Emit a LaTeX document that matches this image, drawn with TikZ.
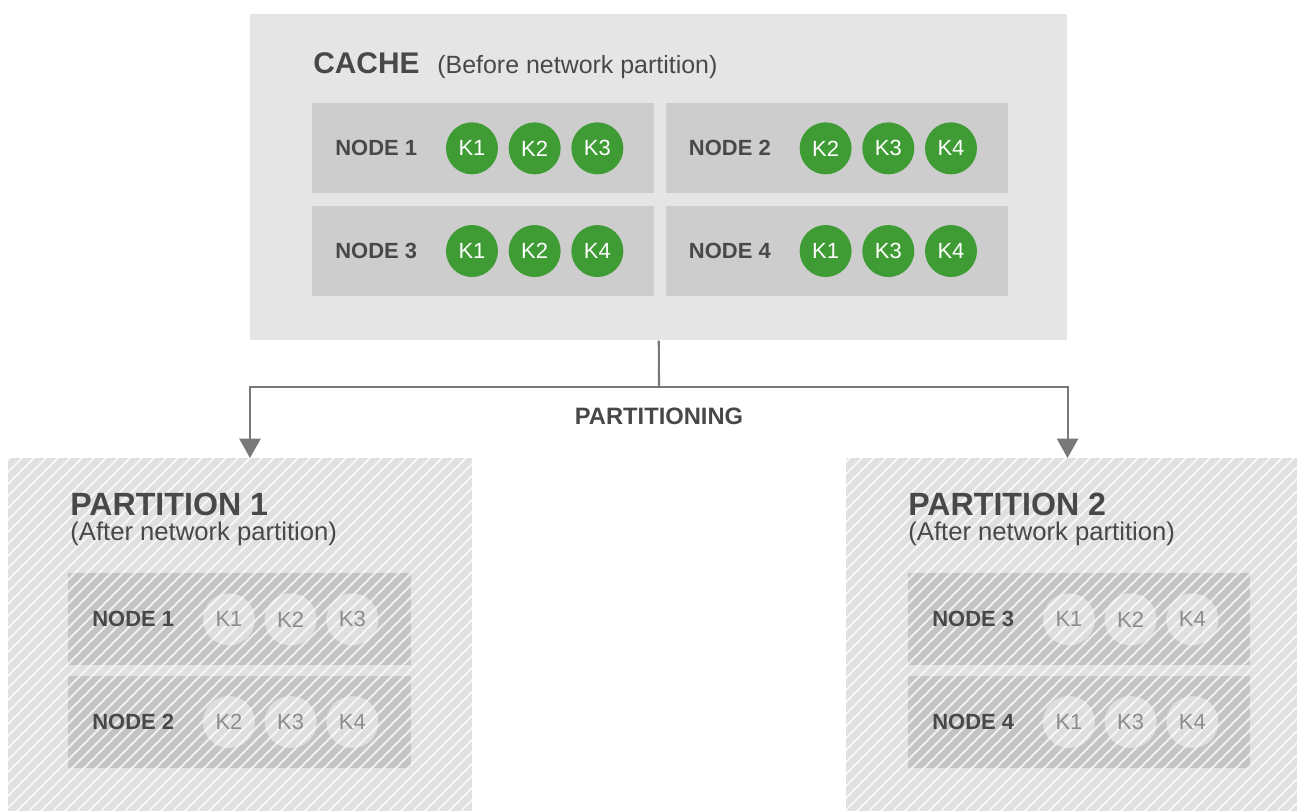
\documentclass[tikz,border=0pt]{standalone}
\usepackage{fontspec}
\setmainfont{Liberation Sans}
\usetikzlibrary{
    arrows.meta,
    positioning,
    calc
}
\definecolor{Cbox}{RGB}{229, 229, 229}
\definecolor{Cnode}{RGB}{205, 205, 205}
\definecolor{Cgreen}{RGB}{63, 156, 53}
\definecolor{Ctext}{RGB}{72, 72, 72}
\definecolor{Cline}{RGB}{120, 120, 120}
\definecolor{Cpart}{RGB}{224, 224, 224}
\definecolor{Cpnode}{RGB}{196, 196, 196}
\definecolor{Cpkey}{RGB}{222, 222, 222}
\definecolor{Cktext}{RGB}{140, 140, 140}
\tikzset{
    cbox/.style={
        rectangle, fill=Cbox, inner sep=0pt, anchor=north west
    },
    nbox/.style={
        rectangle, fill=Cnode, minimum width=6.84cm, minimum height=1.8cm,
        inner sep=0pt, anchor=north west
    },
    pbox/.style={
        rectangle, fill=Cpart, inner sep=0pt, anchor=north west
    },
    pnbox/.style={
        nbox, fill=Cpnode, minimum width=6.86cm, minimum height=1.84cm
    },
    nlabel/.style={
        font=\bfseries\fontsize{12.5}{15}\selectfont, text=Ctext,
        anchor=west, inner sep=0pt
    },
    kcirc/.style={
        circle, fill=Cgreen, text=white, minimum size=1.04cm, inner sep=0pt,
        font=\fontsize{12.5}{15}\selectfont
    },
    pkcirc/.style={kcirc, fill=Cpkey, text=Cktext},
    stripe/.style={white, opacity=0.75, line width=1.1pt},
    carr/.style={-{Triangle[length=11pt, width=12pt]}, line width=1.2pt, Cline},
}
\begin{document}
\begin{tikzpicture}[x=0.02cm, y=-0.02cm]
    \useasboundingbox (0,0) rectangle (1297,811);

    % ── cache (before partition) ─────────────────────────
    \node [cbox, minimum width=16.34cm, minimum height=6.52cm] (cache) at (250,14) {};
    \node [font=\bfseries\fontsize{17}{20}\selectfont, text=Ctext, anchor=base west, inner sep=0pt]
        (ctitle) at (313,73) {CACHE};
    \node [font=\fontsize{14.2}{17}\selectfont, text=Ctext, anchor=base west, inner sep=0pt]
        (csub) at (437,73) {(Before network partition)};

    \node [nbox] (c1) at (312,103) {};
    \node [nbox, right=0.22cm of c1] (c2) {};
    \node [nbox, below=0.24cm of c1] (c3) {};
    \node [nbox, below=0.24cm of c2] (c4) {};

    \foreach \n/\ka/\kb/\kc in {1/K1/K2/K3, 2/K2/K3/K4, 3/K1/K2/K4, 4/K1/K3/K4} {
        \node [nlabel] (c\n lab) at ([xshift=0.46cm]c\n.west) {NODE \n};
        \node [kcirc] (c\n k1) at ([xshift=3.2cm]c\n.west) {\ka};
        \node [kcirc, right=0.2cm of c\n k1] (c\n k2) {\kb};
        \node [kcirc, right=0.2cm of c\n k2] (c\n k3) {\kc};
    }

    % ── partitions (after partition) ─────────────────────
    \node [pbox, minimum width=9.28cm, minimum height=7.06cm] (part1) at (8,458) {};
    \node [pbox, minimum width=9.02cm, minimum height=7.06cm] (part2) at (846,458) {};

    \node [pnbox] (p1) at (68,573) {};
    \node [pnbox, below=0.2cm of p1] (p2) {};
    \node [pnbox, minimum width=6.84cm] (p3) at (908,573) {};
    \node [pnbox, minimum width=6.84cm, below=0.2cm of p3] (p4) {};

    \foreach \n in {1,...,4} {
        \node [pkcirc] (p\n k1) at ([xshift=3.22cm]p\n.west) {};
        \node [pkcirc, right=0.18cm of p\n k1] (p\n k2) {};
        \node [pkcirc, right=0.18cm of p\n k2] (p\n k3) {};
    }

    % hatching over both partitions
    \begin{scope}
        \clip (part1.north west) rectangle (part1.south east)
              (part2.north west) rectangle (part2.south east);
        \foreach \i in {-400,-388,...,1300}
            \draw [stripe] (\i,820) -- ++(420,-420);
    \end{scope}

    \foreach \n/\ka/\kb/\kc in {1/K1/K2/K3, 2/K2/K3/K4, 3/K1/K2/K4, 4/K1/K3/K4} {
        \node [nlabel] (p\n lab) at ([xshift=0.48cm]p\n.west) {NODE \n};
        \node [text=Cktext, font=\fontsize{12.5}{15}\selectfont] at (p\n k1) {\ka};
        \node [text=Cktext, font=\fontsize{12.5}{15}\selectfont] at (p\n k2) {\kb};
        \node [text=Cktext, font=\fontsize{12.5}{15}\selectfont] at (p\n k3) {\kc};
    }

    \node [font=\bfseries\fontsize{18.3}{22}\selectfont, text=Ctext, anchor=base west, inner sep=0pt]
        (pt1) at (70,515) {PARTITION 1};
    \node [font=\fontsize{14.6}{17}\selectfont, text=Ctext, anchor=base west, inner sep=0pt]
        (ps1) at (70,540) {(After network partition)};
    \node [font=\bfseries\fontsize{18.3}{22}\selectfont, text=Ctext, anchor=base west, inner sep=0pt]
        (pt2) at (908,515) {PARTITION 2};
    \node [font=\fontsize{14.6}{17}\selectfont, text=Ctext, anchor=base west, inner sep=0pt]
        (ps2) at (908,540) {(After network partition)};

    % ── connector ────────────────────────────────────────
    \coordinate (split) at (659,387);
    \draw [Cline, line width=1.2pt] (cache.south) -- (split);
    \draw [carr] (split) -| (cache.south west |- part1.north);
    \draw [carr] (split) -| (cache.south east |- part2.north);
    \node [font=\bfseries\fontsize{13.5}{16}\selectfont, text=Ctext]
        (plabel) at (659,416) {PARTITIONING};

\end{tikzpicture}
\end{document}
